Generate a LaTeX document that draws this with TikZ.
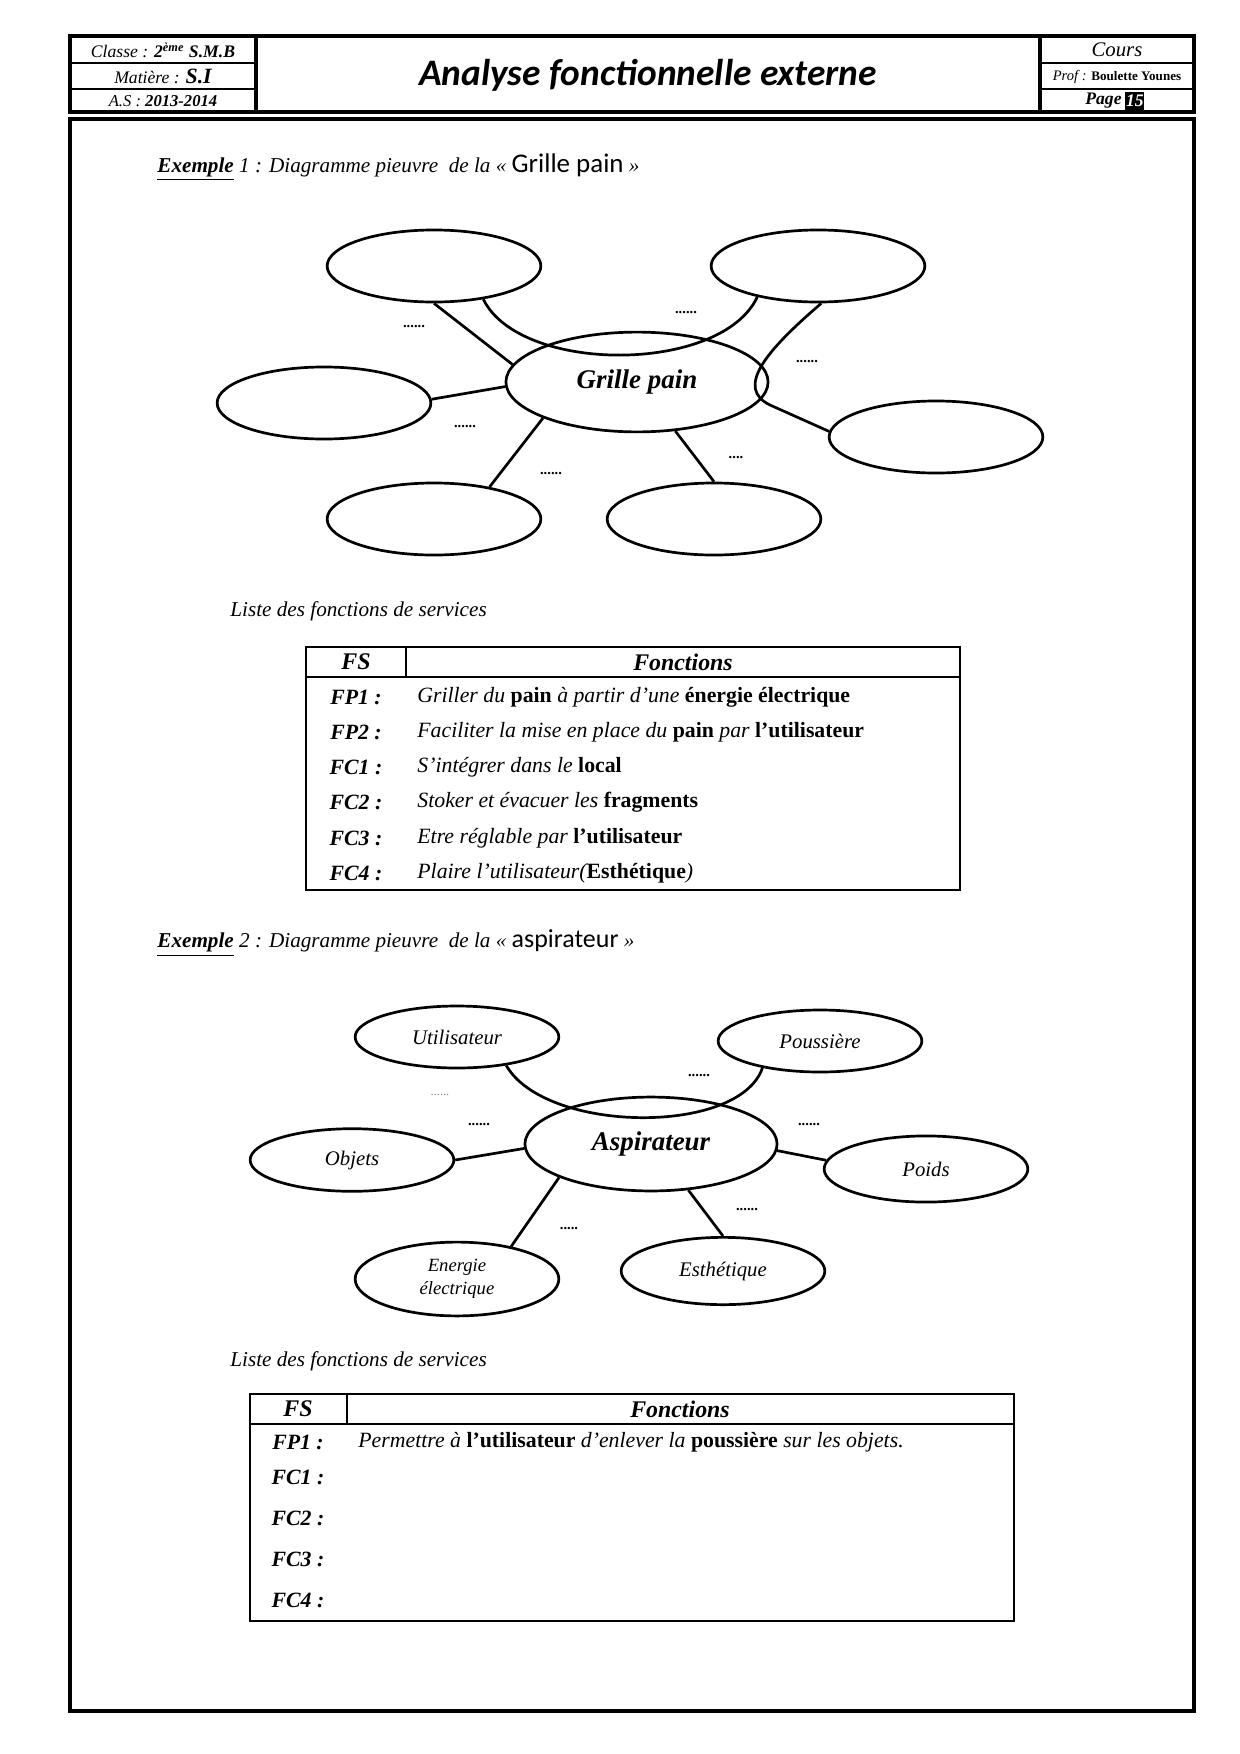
\documentclass[tikz,border=0pt]{standalone}
\usepackage{fontspec}
\setmainfont{Liberation Serif}
\newfontfamily\calib{Carlito}
\usetikzlibrary{shapes.geometric}

\newcommand{\kw}[1]{\textbf{\upshape #1}}

\tikzset{
  every node/.style={inner sep=0pt},
  frame/.style={line width=1.6pt},
  rule/.style={line width=.8pt},
  bubble/.style={ellipse, draw, line width=1.3pt, inner sep=0pt,
    minimum width=36.2mm, minimum height=12.2mm,
    font=\fontsize{10}{12}\selectfont\itshape},
  smallbubble/.style={bubble, minimum width=34.5mm},
  hub/.style={bubble, minimum width=44.4mm, minimum height=16.9mm,
    font=\fontsize{13}{15}\selectfont\bfseries\itshape},
  link/.style={line width=1.3pt},
  dots/.style={font=\fontsize{7}{8}\selectfont\bfseries},
  caption/.style={anchor=west, font=\fontsize{10.2}{12}\selectfont\itshape},
  fslabel/.style={font=\fontsize{10.5}{12}\selectfont\bfseries\itshape},
  fstext/.style={anchor=west, font=\fontsize{10.5}{12}\selectfont\itshape},
  colhead/.style={font=\fontsize{11.5}{13}\selectfont\bfseries\itshape}
}

\begin{document}
\begin{tikzpicture}[x=0.16935mm,y=-0.16935mm]
\useasboundingbox (0,0) rectangle (1240,1754);

% header band
\draw[frame] (70,36) rectangle (1194,112);
\draw[frame] (256,36) -- (256,112);
\draw[frame] (1040,36) -- (1040,112);
\draw[rule] (70,63) -- (256,63);
\draw[rule] (70,89) -- (256,89);
\draw[rule] (1040,63) -- (1194,63);
\draw[rule] (1040,89) -- (1194,89);

\node[font=\fontsize{8.5}{10}\selectfont\itshape] (classe) at (163,50)
  {Classe : \textbf{2\textsuperscript{ème} S.M.B}};
\node[font=\fontsize{8.5}{10}\selectfont\itshape] (matiere) at (163,76)
  {Matière : {\fontsize{10.5}{12}\selectfont\bfseries S.I}};
\node[font=\fontsize{8}{10}\selectfont\itshape] (annee) at (163,101)
  {A.S : \textbf{2013-2014}};
\node[font=\calib\fontsize{18}{20}\selectfont\bfseries\itshape] (titre) at (648,75)
  {Analyse fonctionnelle externe};
\node[font=\fontsize{10}{12}\selectfont\itshape] (cours) at (1117,50) {Cours};
\node[font=\fontsize{7}{8}\selectfont\itshape] (prof) at (1117,77)
  {Prof : {\fontsize{6.3}{8}\selectfont\bfseries\upshape Boulette Younes}};
\node[font=\fontsize{8.5}{10}\selectfont\bfseries\itshape, anchor=east] (pagelbl) at (1122,101) {Page};
\node[fill=black, text=white, minimum width=3.2mm, minimum height=3.2mm,
  font=\fontsize{8.5}{10}\selectfont\bfseries\itshape, anchor=west] (pagenum) at (1125,101) {15};

% page frame
\draw[frame] (70,119) rectangle (1194,1711);

% example 1
\node[caption] (ex1) at (157,167)
  {\underline{\textbf{Exemple}} 1 : Diagramme pieuvre\ \ de la « {\calib\upshape\fontsize{13}{15}\selectfont Grille pain} »};

\node[hub] (hubA) at (637,382) {Grille pain};
\node[bubble] (tlA) at (434,266) {};
\node[bubble] (trA) at (818,266) {};
\node[bubble] (lA) at (324,403) {};
\node[bubble] (rA) at (936,437) {};
\node[bubble] (blA) at (434,519) {};
\node[bubble] (brA) at (714,519) {};

\coordinate (kneeA) at (770,405);
\draw[link] (tlA.south) -- (hubA.172);
\draw[link] (tlA.-34) .. controls +(37,75) and +(-36,77) .. (trA.-153);
\draw[link] (trA.-85) .. controls +(-56,48) and +(-35,-17) .. (kneeA) -- (rA.177);
\draw[link] (lA.2) -- (hubA.182);
\draw[link] (hubA.-159) -- (blA.30);
\draw[link] (hubA.-52) -- (brA.north);

\node[dots] (dA1) at (414,327) {......};
\node[dots] (dA2) at (686,313) {......};
\node[dots] (dA3) at (807,362) {......};
\node[dots] (dA4) at (465,427) {......};
\node[dots] (dA5) at (551,474) {......};
\node[dots] (dA6) at (736,458) {....};

% table 1
\node[caption] (liste1) at (230,611) {Liste des fonctions de services};
\draw[rule] (306,647) rectangle (960,890);
\draw[rule] (306,677) -- (960,677);
\draw[rule] (406,647) -- (406,677);
\node[colhead] (fsA) at (356,662) {FS};
\node[colhead] (fctA) at (683,662) {Fonctions};

\node[fslabel] (fp1A) at (356,697) {FP1 :};
\node[fstext] (tfp1A) at (417,697) {Griller du \kw{pain} à partir d’une \kw{énergie électrique}};
\node[fslabel] (fp2A) at (356,732) {FP2 :};
\node[fstext] (tfp2A) at (417,732) {Faciliter la mise en place du \kw{pain} par \kw{l’utilisateur}};
\node[fslabel] (fc1A) at (356,767) {FC1 :};
\node[fstext] (tfc1A) at (417,767) {S’intégrer dans le \kw{local}};
\node[fslabel] (fc2A) at (356,802) {FC2 :};
\node[fstext] (tfc2A) at (417,802) {Stoker et évacuer les \kw{fragments}};
\node[fslabel] (fc3A) at (356,838) {FC3 :};
\node[fstext] (tfc3A) at (417,838) {Etre réglable par \kw{l’utilisateur}};
\node[fslabel] (fc4A) at (356,873) {FC4 :};
\node[fstext] (tfc4A) at (417,873) {Plaire l’utilisateur(\kw{Esthétique})};

% example 2
\node[caption] (ex2) at (157,943)
  {\underline{\textbf{Exemple}} 2 : Diagramme pieuvre\ \ de la « {\calib\upshape\fontsize{12.5}{15}\selectfont aspirateur} »};

\node[hub, minimum width=42.7mm, minimum height=15.9mm] (hubB) at (651,1144) {Aspirateur};
\node[smallbubble, minimum height=10.5mm] (user) at (457,1037) {Utilisateur};
\node[smallbubble, minimum height=10.5mm] (dust) at (820,1041) {Poussière};
\node[smallbubble, minimum height=10.6mm] (objs) at (352,1160) {Objets};
\node[smallbubble, minimum height=11.2mm] (weight) at (926,1169) {Poids};
\node[smallbubble, minimum height=12.5mm, align=center,
  font=\fontsize{9}{11}\selectfont\itshape] (power) at (457,1279) {Energie\\électrique};
\node[smallbubble, minimum height=11.4mm] (looks) at (723,1271) {Esthétique};

\draw[link] (user.-30) .. controls +(39,68) and +(-23,68) .. (dust.-155);
\draw[link] (objs.east) -- (hubB.182);
\draw[link] (hubB.-3) -- (weight.175);
\draw[link] (hubB.-160) -- (power.31);
\draw[link] (hubB.-51) -- (looks.north);

\node[dots, text=gray, font=\fontsize{6}{7}\selectfont] (dB1) at (440,1095) {......};
\node[dots] (dB2) at (479,1125) {......};
\node[dots] (dB3) at (699,1076) {......};
\node[dots] (dB4) at (809,1125) {......};
\node[dots] (dB5) at (569,1229) {.....};
\node[dots] (dB6) at (747,1210) {......};

% table 2
\node[caption] (liste2) at (230,1361) {Liste des fonctions de services};
\draw[rule] (250,1394) rectangle (1014,1621);
\draw[rule] (250,1424) -- (1014,1424);
\draw[rule] (347,1394) -- (347,1424);
\node[colhead] (fsB) at (298,1409) {FS};
\node[colhead] (fctB) at (680,1409) {Fonctions};

\node[fslabel] (fp1B) at (298,1442) {FP1 :};
\node[fstext] (tfp1B) at (358,1442)
  {Permettre à \kw{l’utilisateur} d’enlever la \kw{poussière} sur les objets.};
\node[fslabel] (fc1B) at (298,1477) {FC1 :};
\node[fslabel] (fc2B) at (298,1518) {FC2 :};
\node[fslabel] (fc3B) at (298,1559) {FC3 :};
\node[fslabel] (fc4B) at (298,1600) {FC4 :};

\end{tikzpicture}
\end{document}
